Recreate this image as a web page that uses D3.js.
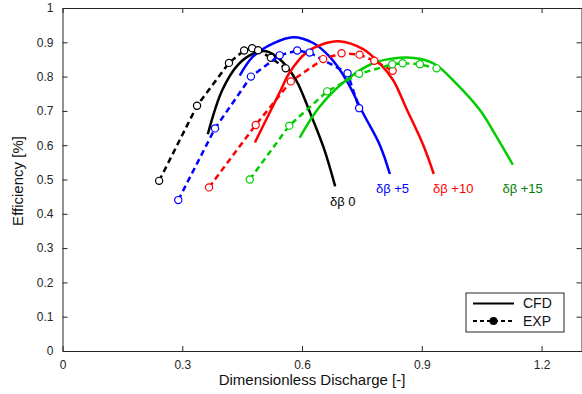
<!DOCTYPE html>
<html><head><meta charset="utf-8">
<script src="https://cdn.jsdelivr.net/npm/d3@7"></script>
<style>body{margin:0;background:#fff}svg{display:block}text{font-family:"Liberation Sans",Arial,sans-serif}</style>
</head><body><svg id="c" width="582" height="394"></svg>
<script>
// ---- data ----
const xTicks = [0, 0.3, 0.6, 0.9, 1.2];
const yTicks = [0, 0.1, 0.2, 0.3, 0.4, 0.5, 0.6, 0.7, 0.8, 0.9, 1];
const seriesNames = ["δβ 0", "δβ +5", "δβ +10", "δβ +15"];
const seriesColors = ["#000000", "#0000ff", "#ff0000", "#00cc00"];
const labelColors = ["#000000", "#0000ff", "#ff0000", "#008000"];

const cfd0x = [0.364, 0.40, 0.44, 0.48, 0.51, 0.545, 0.585, 0.62, 0.655, 0.683];
const cfd0y = [0.632, 0.76, 0.835, 0.868, 0.874, 0.85, 0.79, 0.695, 0.59, 0.48];
const exp0x = [0.242, 0.337, 0.417, 0.455, 0.475, 0.490, 0.522, 0.559];
const exp0y = [0.496, 0.715, 0.840, 0.876, 0.883, 0.877, 0.855, 0.824];

const cfd5x = [0.444, 0.477, 0.528, 0.578, 0.628, 0.669, 0.711, 0.753, 0.795, 0.820];
const cfd5y = [0.803, 0.858, 0.897, 0.915, 0.898, 0.858, 0.790, 0.693, 0.600, 0.516];
const exp5x = [0.290, 0.382, 0.472, 0.544, 0.588, 0.619, 0.714, 0.743];
const exp5y = [0.440, 0.649, 0.800, 0.862, 0.876, 0.870, 0.810, 0.708];

const cfd10x = [0.482, 0.544, 0.569, 0.611, 0.653, 0.692, 0.753, 0.795, 0.828, 0.861, 0.903, 0.930];
const cfd10y = [0.608, 0.754, 0.812, 0.870, 0.895, 0.903, 0.880, 0.838, 0.790, 0.708, 0.602, 0.516];
const exp10x = [0.367, 0.484, 0.572, 0.653, 0.699, 0.744, 0.781, 0.827];
const exp10y = [0.477, 0.659, 0.786, 0.851, 0.868, 0.864, 0.846, 0.817];

const cfd15x = [0.594, 0.644, 0.711, 0.778, 0.828, 0.862, 0.895, 0.936, 0.986, 1.045, 1.087, 1.128];
const cfd15y = [0.622, 0.712, 0.790, 0.839, 0.853, 0.856, 0.852, 0.834, 0.780, 0.703, 0.625, 0.543];
const exp15x = [0.469, 0.568, 0.663, 0.743, 0.826, 0.852, 0.895, 0.937];
const exp15y = [0.500, 0.657, 0.757, 0.808, 0.836, 0.839, 0.836, 0.824];

const labelX = [0.670, 0.785, 0.928, 1.102];
const labelY = [0.435, 0.474, 0.474, 0.474];

const legendLabels = ["CFD", "EXP"];

// ---- chart ----
const svg = d3.select("#c");
const x = d3.scaleLinear().domain([0, 1.3]).range([62.5, 581.5]);
const y = d3.scaleLinear().domain([0, 1]).range([351, 8]);
const axisColor = "#262626";

const cfd = [[cfd0x, cfd0y], [cfd5x, cfd5y], [cfd10x, cfd10y], [cfd15x, cfd15y]];
const exp = [[exp0x, exp0y], [exp5x, exp5y], [exp10x, exp10y], [exp15x, exp15y]];
const zip = (a, b) => a.map((v, i) => [v, b[i]]);
const line = d3.line().x(d => x(d[0])).y(d => y(d[1]));
const smooth = d3.line().x(d => x(d[0])).y(d => y(d[1])).curve(d3.curveCatmullRom.alpha(0.5));

// axes
const gB = svg.append("g").attr("transform", `translate(0,${y(0)})`)
  .call(d3.axisBottom(x).tickValues(xTicks).tickSizeInner(-5).tickSizeOuter(0).tickPadding(9).tickFormat(d3.format("~g")));
const gL = svg.append("g").attr("transform", `translate(${x(0)},0)`)
  .call(d3.axisLeft(y).tickValues(yTicks).tickSizeInner(-5).tickSizeOuter(0).tickPadding(9).tickFormat(d3.format("~g")));
const gT = svg.append("g").attr("transform", `translate(0,${y(1)})`)
  .call(d3.axisTop(x).tickValues(xTicks).tickSizeInner(-5).tickSizeOuter(0).tickFormat(""));
const gR = svg.append("g").attr("transform", `translate(${x(1.3)},0)`)
  .call(d3.axisRight(y).tickValues(yTicks).tickSizeInner(-5).tickSizeOuter(0).tickFormat(""));
[gB, gL, gT, gR].forEach(g => {
  g.selectAll("path,line").attr("stroke", axisColor).attr("stroke-width", 1);
  g.selectAll("text").attr("fill", axisColor).style("font-size", "12px").style("font-family", '"Liberation Sans",Arial,sans-serif');
});

// axis titles
svg.append("text").attr("x", (x(0) + x(1.3)) / 2 - 10).attr("y", 385).attr("text-anchor", "middle")
  .style("font-size", "15px").attr("fill", "#111").text("Dimensionless Discharge [-]");
svg.append("text").attr("transform", `translate(23,181) rotate(-90)`).attr("text-anchor", "middle")
  .style("font-size", "15px").attr("fill", "#111").text("Efficiency [%]");

// series
cfd.forEach((s, i) => {
  svg.append("path").datum(zip(s[0], s[1])).attr("d", smooth).attr("fill", "none")
    .attr("stroke", seriesColors[i]).attr("stroke-width", 2.5).attr("stroke-linejoin", "round");
});
exp.forEach((s, i) => {
  const pts = zip(s[0], s[1]);
  svg.append("path").datum(pts).attr("d", line).attr("fill", "none")
    .attr("stroke", seriesColors[i]).attr("stroke-width", 2.5).attr("stroke-dasharray", "6,4");
  svg.append("g").selectAll("circle").data(pts).join("circle")
    .attr("cx", d => x(d[0])).attr("cy", d => y(d[1])).attr("r", 3.6)
    .attr("fill", "#fff").attr("stroke", seriesColors[i]).attr("stroke-width", 1.2);
});

// labels
seriesNames.forEach((n, i) => {
  svg.append("text").attr("x", x(labelX[i])).attr("y", y(labelY[i])).attr("dy", "0.35em")
    .style("font-size", "13px").attr("fill", labelColors[i]).text(n);
});

// legend
const lg = svg.append("g");
lg.append("rect").attr("x", 466).attr("y", 293).attr("width", 98).attr("height", 39)
  .attr("fill", "#fff").attr("stroke", axisColor).attr("stroke-width", 1);
lg.append("line").attr("x1", 473).attr("x2", 514).attr("y1", 303.5).attr("y2", 303.5)
  .attr("stroke", "#000").attr("stroke-width", 2);
lg.append("line").attr("x1", 473).attr("x2", 514).attr("y1", 321).attr("y2", 321)
  .attr("stroke", "#000").attr("stroke-width", 2).attr("stroke-dasharray", "4,3");
lg.append("circle").attr("cx", 493.5).attr("cy", 321).attr("r", 4).attr("fill", "#000");
legendLabels.forEach((t, i) => {
  lg.append("text").attr("x", 523).attr("y", 303.5 + i * 17.5).attr("dy", "0.35em")
    .style("font-size", "14px").attr("fill", "#111").text(t);
});
</script></body></html>
